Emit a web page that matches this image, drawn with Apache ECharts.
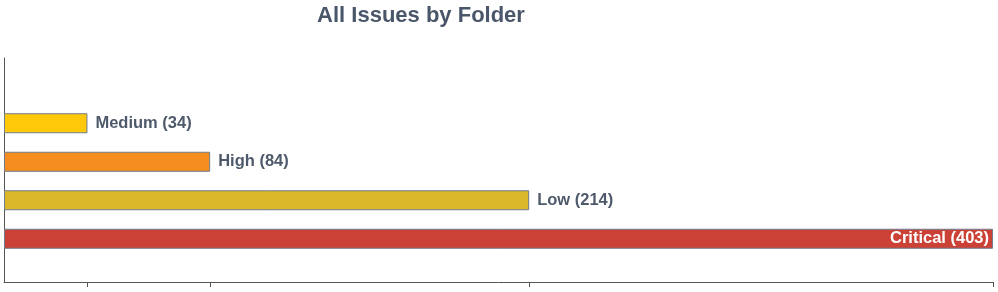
<!DOCTYPE html>
<html>
<head>
<meta charset="utf-8">
<script src="https://cdn.jsdelivr.net/npm/echarts@6/dist/echarts.min.js"></script>
<style>html,body{margin:0;padding:0;background:#fff}#c{width:998px;height:292px}</style>
</head>
<body>
<div id="c"></div>
<script>
var categories = ['Medium', 'High', 'Low', 'Critical'];
var values = [34, 84, 214, 403];
var barColors = ['#FFC90A', '#F68D1F', '#DBB828', '#CC4136'];
var tickValues = [34, 84, 214, 403];
var maxValue = 403;

var chart = echarts.init(document.getElementById('c'), null, {renderer: 'canvas'});
var labelColor = '#4E5A6B';
chart.setOption({
  animation: false,
  title: {
    text: 'All Issues by Folder',
    left: 416, top: 0, textAlign: 'center',
    textStyle: {fontFamily: 'Liberation Sans', fontWeight: 'bold', fontSize: 22, color: '#4A5669'}
  },
  grid: [
    {left: 4, right: 5, top: 58, bottom: 10},
    {left: 4, right: 5, top: 104, height: 154}
  ],
  xAxis: [
    {
      gridIndex: 0, type: 'value', min: 0, max: maxValue,
      axisLine: {show: true, lineStyle: {color: '#555', width: 1}},
      axisTick: {show: true, length: 5, inside: false, customValues: tickValues, lineStyle: {color: '#555'}},
      axisLabel: {show: false},
      splitLine: {show: false}
    },
    {
      gridIndex: 1, type: 'value', min: 0, max: maxValue, show: false
    }
  ],
  yAxis: [
    {
      gridIndex: 0, type: 'value', min: 0, max: 1,
      axisLine: {show: true, lineStyle: {color: '#555', width: 1}},
      axisTick: {show: false}, axisLabel: {show: false}, splitLine: {show: false}
    },
    {
      gridIndex: 1, type: 'category', data: categories, inverse: true, show: false
    }
  ],
  series: [{
    type: 'bar',
    xAxisIndex: 1, yAxisIndex: 1,
    barWidth: 20,
    data: values.map(function (v, i) {
      var last = (v === maxValue);
      return {
        value: v,
        itemStyle: {color: barColors[i], borderColor: '#6F7C8C', borderWidth: 1},
        label: last ? {position: 'insideRight', color: '#fff', distance: 4} : {position: 'right', color: labelColor, distance: 8}
      };
    }),
    label: {
      show: true,
      fontFamily: 'Liberation Sans', fontWeight: 'bold', fontSize: 16.5,
      formatter: function (p) { return categories[p.dataIndex] + ' (' + p.value + ')'; }
    }
  }]
});
</script>
</body>
</html>
